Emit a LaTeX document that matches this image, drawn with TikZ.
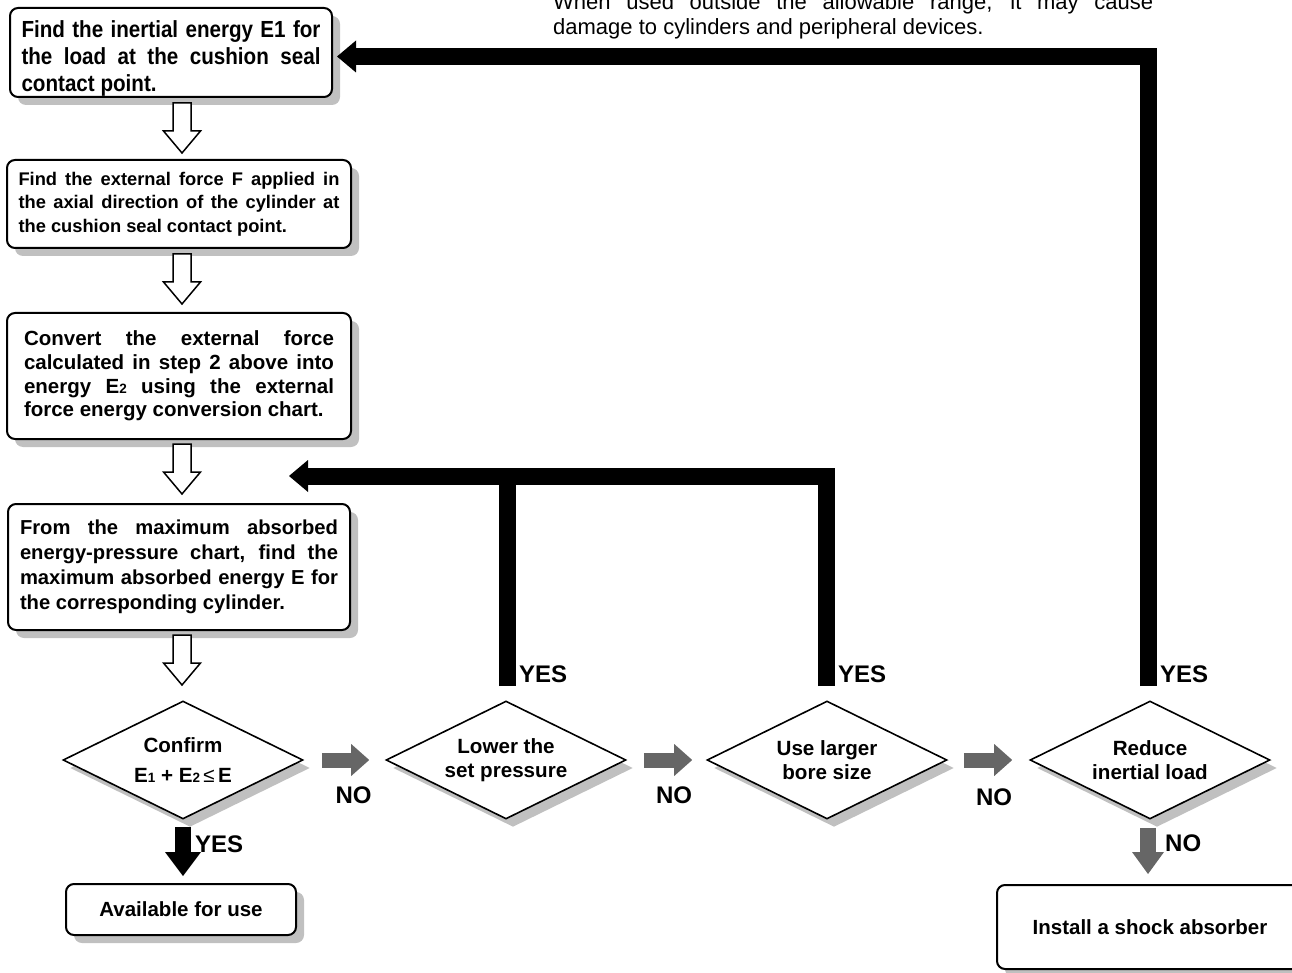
\documentclass[tikz,border=0pt]{standalone}
\usepackage{fontspec}
\setmainfont{Liberation Sans}
\newfontfamily\tallbold[FakeStretch=0.885]{Liberation Sans Bold}
\usetikzlibrary{shapes.geometric,shadows,calc,arrows.meta}

\definecolor{shadowgray}{HTML}{C0C0C0}
\definecolor{flowgray}{HTML}{666666}

% small index digit as in E1, E2
\newcommand\idx[1]{{\fontsize{13.5}{14}\selectfont #1}}
% paragraph settings for justified step text
\newcommand\flowpar{\tolerance=10000\hyphenpenalty=10000\exhyphenpenalty=10000}

\begin{document}
\begin{tikzpicture}[x=1pt,y=-1pt,
  stepbox/.style={draw, line width=2pt, rounded corners=8pt, fill=white,
    drop shadow={shadow xshift=8pt, shadow yshift=-8pt, fill=shadowgray, opacity=1},
    align=justify, inner ysep=2pt},
  endbox/.style={draw, line width=2pt, rounded corners=8pt, fill=white,
    drop shadow={shadow xshift=8pt, shadow yshift=-8pt, fill=shadowgray, opacity=1},
    align=center, inner sep=0pt, font=\bfseries\fontsize{20.5}{24}\selectfont},
  decision/.style={diamond, aspect=2, draw, line width=1.6pt, fill=white,
    minimum width=240pt, minimum height=118pt, inner sep=0pt, align=center,
    drop shadow={shadow xshift=7pt, shadow yshift=-8pt, fill=shadowgray, opacity=1},
    font=\bfseries\fontsize{20.6}{24}\selectfont},
  flowlabel/.style={font=\bfseries\fontsize{24}{24}\selectfont, inner sep=0pt},
  noflow/.style={draw=flowgray, line width=15pt,
    -{Triangle[length=18pt, width=32pt, line width=0pt]}},
  nodown/.style={draw=flowgray, line width=16pt,
    -{Triangle[length=22pt, width=32pt, line width=0pt]}},
  yesdown/.style={draw=black, line width=16pt,
    -{Triangle[length=24pt, width=36pt, line width=0pt]}},
  feedback/.style={draw=black, line width=17pt, line join=miter,
    -{Triangle[length=19pt, width=32pt, line width=0pt]}},
  feedbar/.style={draw=black, line width=17pt},
  hollowdown/.pic={
    \draw[line width=1.5pt, fill=white, line join=miter]
      (-9,0) -- (-9,28) -- (-18.5,28) -- (0,50) -- (18.5,28) -- (9,28) -- (9,0) -- cycle;}
]
\useasboundingbox (0,0) rectangle (1292,973);

% note above the chart
\node[anchor=south west, inner sep=0pt, text width=600pt, align=justify,
  font=\flowpar\fontsize{22}{25}\selectfont] (note) at (553,39)
  {When used outside the allowable range, it may cause\linebreak
   damage to cylinders and peripheral devices.};

% steps
\node[stepbox, minimum width=322pt, minimum height=89pt] (b1) at (171,52.5) {};
\node[text width=299pt, inner sep=0pt, align=justify,
  font=\flowpar\tallbold\fontsize{23.3}{27}\selectfont] (b1text) at ($(b1.center)+(0,6)$)
  {Find the inertial energy E1 for\linebreak the load at the cushion seal\linebreak contact point.};
\node[stepbox, text width=321pt, inner xsep=11.5pt, minimum width=344pt, minimum height=88pt,
  font=\flowpar\bfseries\fontsize{18.3}{23.5}\selectfont] (b2) at (179,204)
  {Find the external force F applied in\linebreak the axial direction of the cylinder at\linebreak the cushion seal contact point.};
\node[stepbox, text width=310pt, inner xsep=17pt, minimum width=344pt, minimum height=126pt,
  font=\flowpar\bfseries\fontsize{20.5}{23.7}\selectfont] (b3) at (179,376)
  {Convert the external force\linebreak calculated in step 2 above into\linebreak energy E\idx{2} using the external\linebreak force energy conversion chart.};
\node[stepbox, text width=318pt, inner xsep=12pt, minimum width=342pt, minimum height=126pt,
  font=\flowpar\bfseries\fontsize{20.2}{25}\selectfont] (b4) at (179,567)
  {From the maximum absorbed\linebreak energy-pressure chart, find the\linebreak maximum absorbed energy E for\linebreak the corresponding cylinder.};

% decisions
\node[decision, font=\bfseries\fontsize{20.6}{30}\selectfont] (d1) at (183,760)
  {Confirm\\E\idx{1} + E\idx{2}{\mdseries\,≤}\,E};
\node[decision] (d2) at (506,760) {Lower the\\set pressure};
\node[decision] (d3) at (827,760) {Use larger\\bore size};
\node[decision] (d4) at (1150,760) {Reduce\\inertial load};

% outcomes
\node[endbox, minimum width=230pt, minimum height=51pt] (avail) at (181,909.5) {Available for use};
\node[endbox, minimum width=306pt, minimum height=84pt] (install) at (1150,927) {Install a shock absorber};

% hollow arrows down the step column
\pic at ($(b1.south -| d1.north)+(-1,5)$) {hollowdown};
\pic at ($(b2.south -| d1.north)+(-1,5)$) {hollowdown};
\pic at ($(b3.south -| d1.north)+(-1,4)$) {hollowdown};
\pic at ($(b4.south -| d1.north)+(-1,4)$) {hollowdown};

% NO path between decisions
\draw[noflow] ($(d1.east)+(18,0)$) -- ($(d2.west)+(-16,0)$)
  node[flowlabel, midway, xshift=8pt, yshift=-35pt] {NO};
\draw[noflow] ($(d2.east)+(17,0)$) -- ($(d3.west)+(-14,0)$)
  node[flowlabel, midway, xshift=6pt, yshift=-35pt] {NO};
\draw[noflow] ($(d3.east)+(16,0)$) -- ($(d4.west)+(-17,0)$)
  node[flowlabel, midway, xshift=6pt, yshift=-37pt] {NO};

% YES down to use, NO down to shock absorber
\coordinate (d1low) at ($(d1.south)+(0,7)$);
\draw[yesdown] (d1low) -- ($(d1low |- avail.north)+(0,-7)$);
\node[flowlabel, anchor=west] at ($(d1.south)+(12,24)$) {YES};
\coordinate (d4low) at ($(d4.south)+(-2,8)$);
\draw[nodown] (d4low) -- ($(d4low |- install.north)+(0,-10)$);
\node[flowlabel, anchor=west] at ($(d4.south)+(15,23)$) {NO};

% YES feedback paths
\coordinate (fbtip) at (289,476);
\coordinate (d2top) at ($(d2.north)+(1,-14)$);
\coordinate (d3top) at ($(d3.north)+(-1,-14)$);
\coordinate (d4top) at ($(d4.north)+(-2,-14)$);
\draw[feedbar] (d2top) -- (d2top |- fbtip);
\draw[feedback] (d3top) |- (fbtip);
\draw[feedback] (d4top) |- ($(b1.east)+(4,4)$);
\node[flowlabel, anchor=west] at ($(d2top)+(12,-12)$) {YES};
\node[flowlabel, anchor=west] at ($(d3top)+(12,-12)$) {YES};
\node[flowlabel, anchor=west] at ($(d4top)+(12,-12)$) {YES};
\end{tikzpicture}
\end{document}
